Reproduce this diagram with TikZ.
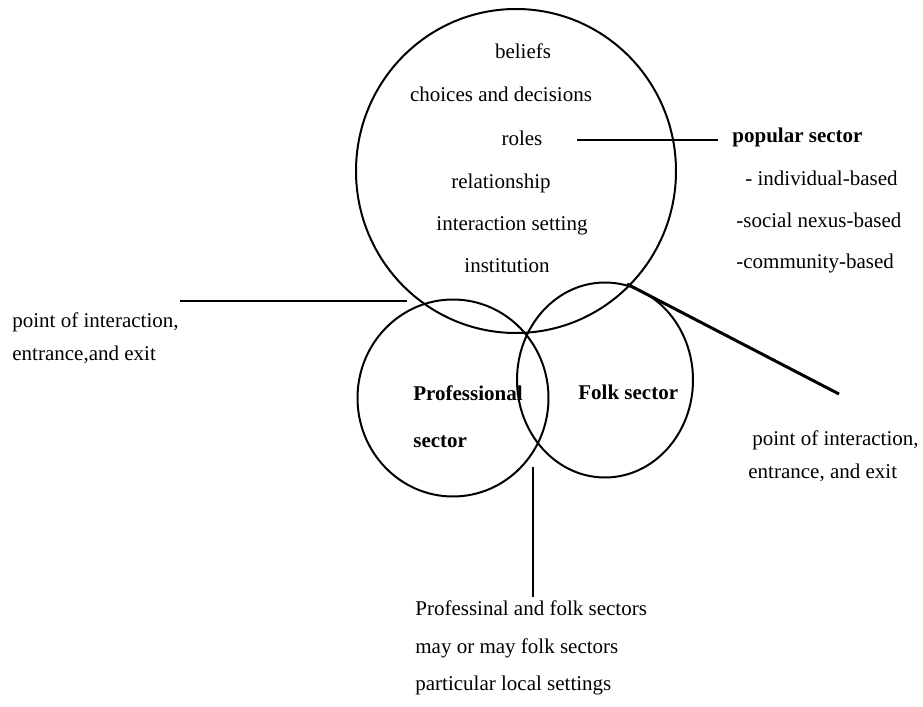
\documentclass[tikz,border=0pt]{standalone}
\usepackage{fontspec}
\setmainfont{Liberation Serif}
\usetikzlibrary{shapes.geometric}

\tikzset{
  lbl/.style={font=\fontsize{10.5}{12}\selectfont, inner sep=0pt, text height=7pt, text depth=2pt},
  sectorring/.style={draw, ellipse, line width=1pt, inner sep=0pt, outer sep=0pt},
  conn/.style={line width=1pt}
}

\begin{document}
\begin{tikzpicture}[x=0.5pt,y=-0.5pt]

\useasboundingbox (0,0) rectangle (923,707);

% circles
\node[sectorring, minimum width=160pt, minimum height=162pt]
(popring)
at (516,171)
{};

\node[sectorring, minimum width=95.5pt, minimum height=98.5pt]
(profring)
at (453,398)
{};

\node[sectorring, minimum width=88pt, minimum height=97.5pt]
(folkring)
at (605,380)
{};

% popular sector
\node[lbl] (beliefs) at (523,53) {beliefs};
\node[lbl] (choices) at (501,96) {choices and decisions};
\node[lbl] (roles) at (522,140) {roles};
\node[lbl] (relation) at (501,183) {relationship};
\node[lbl] (setting) at (512,225) {interaction setting};
\node[lbl] (instit) at (507,267) {institution};

\node[lbl, anchor=west, font=\fontsize{10.5}{12}\selectfont\bfseries]
(popular)
at (732,137)
{popular sector};

\node[lbl, anchor=west] (indiv) at (745,180) {- individual-based};
\node[lbl, anchor=west] (nexus) at (736,222) {-social nexus-based};
\node[lbl, anchor=west] (commun) at (736,263) {-community-based};

\coordinate (rolesA) at (577,140);
\coordinate (rolesB) at (718,140);
\draw[conn] (rolesA) -- (rolesB);

% left point of interaction
\node[lbl, anchor=west] (pointL) at (12,322) {point of interaction,};
\node[lbl, anchor=west] (exitL) at (12,355) {entrance,and exit};

\coordinate (leftA) at (180,301);
\coordinate (leftB) at (407,301);
\draw[conn] (leftA) -- (leftB);

% professional and folk sectors
\node[lbl, anchor=west, font=\fontsize{10.5}{12}\selectfont\bfseries]
(prof)
at (413,395)
{Professional};

\node[lbl, anchor=west, font=\fontsize{10.5}{12}\selectfont\bfseries]
(profsec)
at (413,442)
{sector};

\node[lbl, anchor=west, font=\fontsize{10.5}{12}\selectfont\bfseries]
(folk)
at (578,394)
{Folk sector};

% right point of interaction
\coordinate (rightA) at (627,284);
\coordinate (rightB) at (839,394);
\draw[line width=1.5pt] (rightA) -- (rightB);

\node[lbl, anchor=west] (pointR) at (752,440) {point of interaction,};
\node[lbl, anchor=west] (exitR) at (748,473) {entrance, and exit};

% local settings
\coordinate (localA) at (533,467);
\draw[conn] (localA) -- ++(0,130) coordinate (localB);

\node[lbl, anchor=west] (local1) at (415,610) {Professinal and folk sectors};
\node[lbl, anchor=west] (local2) at (415,648) {may or may folk sectors};
\node[lbl, anchor=west] (local3) at (415,685) {particular local settings};

\end{tikzpicture}
\end{document}
